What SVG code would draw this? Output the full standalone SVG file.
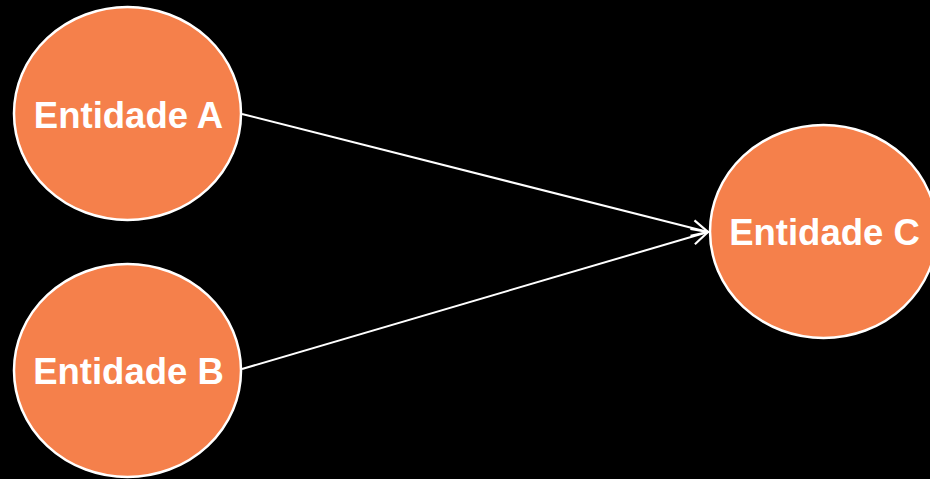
<svg xmlns="http://www.w3.org/2000/svg" width="930" height="479" viewBox="0 0 930 479">
<defs>
<style>
.node ellipse{fill:#F5804B;stroke:#FFFFFF;stroke-width:2.5}
.node text{font-family:"Liberation Sans",Arial,sans-serif;font-weight:bold;font-size:36.5px;fill:#FFFFFF;text-anchor:middle}
.edge{stroke:#FFFFFF;stroke-width:2;fill:none}
</style>
<marker id="arr" viewBox="0 0 20 20" refX="19" refY="10" markerWidth="20" markerHeight="20" markerUnits="userSpaceOnUse" orient="auto">
<path d="M3,2 L19,10 L3,18" fill="none" stroke="#FFFFFF" stroke-width="2.2"/>
</marker>
</defs>
<rect width="930" height="479" fill="#000000"/>
<g id="connectors">
<line class="edge" x1="242" y1="114" x2="708" y2="232" marker-end="url(#arr)"/>
<line class="edge" x1="242" y1="369" x2="708" y2="232" marker-end="url(#arr)"/>
</g>
<g id="nodeA" class="node">
<ellipse cx="127.5" cy="113.5" rx="113.5" ry="106.5"/>
<text x="128.5" y="128">Entidade A</text>
</g>
<g id="nodeB" class="node">
<ellipse cx="127.5" cy="370.5" rx="113.5" ry="106.5"/>
<text x="128.5" y="384">Entidade B</text>
</g>
<g id="nodeC" class="node">
<ellipse cx="823.5" cy="231.5" rx="113.5" ry="106.5"/>
<text x="824.5" y="245">Entidade C</text>
</g>
</svg>
